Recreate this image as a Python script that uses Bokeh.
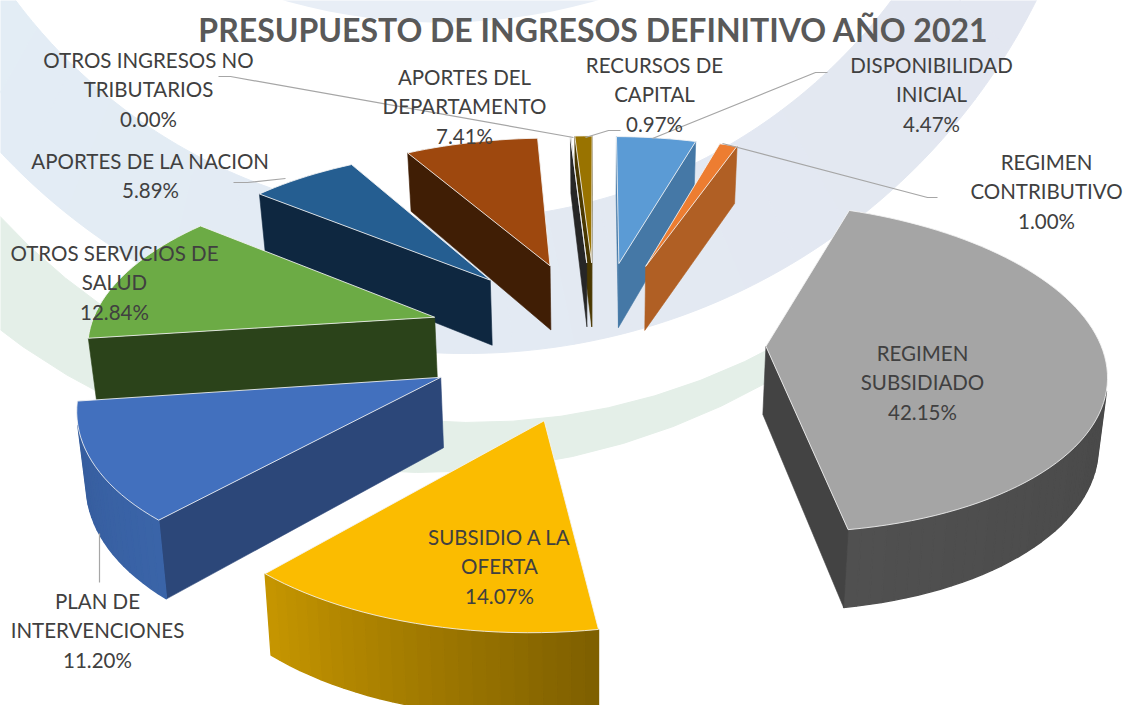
import numpy as np
from bokeh.plotting import figure
from bokeh.models import Range1d
from bokeh.embed import file_html
from bokeh.resources import INLINE
from bokeh.core.properties import value

# ---- data ----
title_text = "PRESUPUESTO DE INGRESOS DEFINITIVO AÑO 2021"
categories = ["DISPONIBILIDAD INICIAL", "REGIMEN CONTRIBUTIVO", "REGIMEN SUBSIDIADO",
              "SUBSIDIO A LA OFERTA", "PLAN DE INTERVENCIONES", "OTROS SERVICIOS DE SALUD",
              "APORTES DE LA NACION", "APORTES DEL DEPARTAMENTO",
              "OTROS INGRESOS NO TRIBUTARIOS", "RECURSOS DE CAPITAL"]
shares = [4.47, 1.00, 42.15, 14.07, 11.20, 12.84, 5.89, 7.41, 0.00, 0.97]
label_lines = [["DISPONIBILIDAD", "INICIAL"], ["REGIMEN", "CONTRIBUTIVO"], ["REGIMEN", "SUBSIDIADO"],
               ["SUBSIDIO A LA", "OFERTA"], ["PLAN DE", "INTERVENCIONES"], ["OTROS SERVICIOS DE", "SALUD"],
               ["APORTES DE LA NACION"], ["APORTES DEL", "DEPARTAMENTO"],
               ["OTROS INGRESOS NO", "TRIBUTARIOS"], ["RECURSOS DE", "CAPITAL"]]

# ---- style ----
top_colors = ["#5B9BD5", "#ED7D31", "#A5A5A5", "#FBBC00", "#4270BE", "#6CAB45", "#255E91", "#9E480E", "#636363", "#997300"]
wall_colors = ["#4578A6", "#B05F24", "#434343", "#8A6800", "#2C4779", "#2B431A", "#0E2740", "#401E05", "#262626", "#4A3800"]
rim_from = ["#4578A6", "#B05F24", "#404040", "#7F6000", "#3A64A8", "#4F7A30", "#1A4469", "#6E3209", "#333333", "#6E5300"]
rim_to = ["#4578A6", "#B05F24", "#505050", "#C59500", "#365C9C", "#4F7A30", "#1A4469", "#6E3209", "#333333", "#6E5300"]

# label centres (first row) and leader lines, in page pixels
label_pos = [(931, 64), (1046, 161), (922, 352), (499, 536), (97, 600), (114, 252), (150, 160), (464, 76), (148, 59), (654, 64)]
leaders = [[(827, 72), (815, 72), (652, 138)], [(937, 197), (927, 197), (722, 143)], None, None,
           [(99, 582), (99, 533)], None, [(233, 182), (247, 182), (285, 178)],
           None, [(218, 76), (230, 76), (573, 137)], [(620, 130), (608, 130), (585, 137)]]

CX, CY = 596.0, 338.0      # projected pie centre
AX, AY = 340.0, 161.0      # screen scale of a unit radius at the pie centre plane
K, KX = 0.128, 0.010       # perspective strength, depth and sideways
EXPLODE = 0.50
DEPTH = 68.0
TAPER = 0.018


def project(X, Y):
    w = 1.0 / (1.0 - K * Y + KX * X)
    return CX + AX * X * w, CY + AY * Y * w, w


def drop(X, Y):
    sx, sy, w = project(X, Y)
    return CX + (sx - CX) * (1 - TAPER), sy + DEPTH * w


def area(xs, ys):
    xs, ys = np.asarray(xs), np.asarray(ys)
    return 0.5 * np.sum(xs * np.roll(ys, -1) - np.roll(xs, -1) * ys)


def mix(a, b, t):
    ca = [int(a[i:i + 2], 16) for i in (1, 3, 5)]
    cb = [int(b[i:i + 2], 16) for i in (1, 3, 5)]
    return "#%02x%02x%02x" % tuple(int(round(u + (v - u) * t)) for u, v in zip(ca, cb))


p = figure(width=1124, height=705, output_backend="svg", toolbar_location=None,
           x_range=Range1d(0, 1124), y_range=Range1d(705, 0),
           min_border=0, outline_line_color=None, background_fill_color="white", border_fill_color="white")
p.xaxis.visible = False
p.yaxis.visible = False
p.grid.visible = False


# ---- pale watermark bands ----
def band(inner, outer, a0, a1, c0, c1, n=30):
    edges = np.radians(np.linspace(a0, a1, n + 1))
    for i in range(n):
        c = mix(c0, c1, i / max(1, n - 1))
        t = np.linspace(edges[i], edges[i + 1], 8)
        xs = np.r_[outer[0] + outer[2] * np.cos(t), (inner[0] + inner[2] * np.cos(t))[::-1]]
        ys = np.r_[outer[1] + outer[2] * np.sin(t), (inner[1] + inner[2] * np.sin(t))[::-1]]
        p.patch(xs, ys, fill_color=c, line_color=c, line_width=1.0)


band((453, -328, 547), (465, -285, 638), 10, 172, "#E3E6F0", "#E3EEF6")
band((471, -221, 643), (423, -229, 701), 52, 172, "#E4EFE8", "#E4EFE8", n=4)
t_top = np.radians(np.linspace(50, 130, 40))
p.patch(440 + 571 * np.cos(t_top), -549 + 571 * np.sin(t_top), fill_color="#E8EEF6", line_color=None)

# ---- slices ----
order_angles = np.cumsum([0] + shares) * 3.6
slices = []
for i, s in enumerate(shares):
    a0, a1 = np.radians(order_angles[i]), np.radians(order_angles[i + 1])
    m = (a0 + a1) / 2
    ax, ay = EXPLODE * np.sin(m), -EXPLODE * np.cos(m)
    slices.append((ay, i, a0, a1, ax))
slices.sort()

for ay0, i, a0, a1, ax in slices:
    n = max(2, int(np.degrees(a1 - a0) / 2) + 2)
    th = np.linspace(a0, a1, n)
    X = np.r_[ax, ax + np.sin(th)]
    Y = np.r_[ay0, ay0 - np.cos(th)]
    sx, sy, _ = project(X, Y)
    bx, by = drop(X, Y)
    A = area(sx, sy)
    m = len(X)
    for j in range(m):
        k = (j + 1) % m
        qx = [sx[j], sx[k], bx[k], bx[j]]
        qy = [sy[j], sy[k], by[k], by[j]]
        radial = j == 0 or j == m - 1
        if shares[i] == 0 and j != 0:
            continue
        if shares[i] != 0 and area(qx, qy) * A >= 0:
            continue
        t = (j - 1) / max(1, m - 3)
        c = wall_colors[i] if radial else mix(rim_from[i], rim_to[i], t)
        p.patch(qx, qy, fill_color=c, line_color=c, line_width=1.4 if not radial else 0.6)
    p.patch(sx, sy, fill_color=top_colors[i], line_color="#F4F4F4", line_width=1.0, line_alpha=0.85)

# ---- leaders ----
for pts in leaders:
    if pts:
        p.line([q[0] for q in pts], [q[1] for q in pts], line_color="#A6A6A6", line_width=1.2)

# ---- labels ----
LH = 29.5
for i, lines in enumerate(label_lines):
    lx, ly = label_pos[i]
    rows = lines + ["%.2f%%" % shares[i]]
    p.text([lx] * len(rows), [ly + r * LH for r in range(len(rows))], text=rows,
           text_font=value("Lato"), text_font_size="20.5px", text_color="#404040",
           text_align="center", text_baseline="middle")

p.text([593], [29], text=[title_text], text_font=value("Lato"), text_font_style="bold",
       text_font_size="32px", text_color="#595959", text_align="center", text_baseline="middle")

open("out.html", "w").write(file_html(p, INLINE))
